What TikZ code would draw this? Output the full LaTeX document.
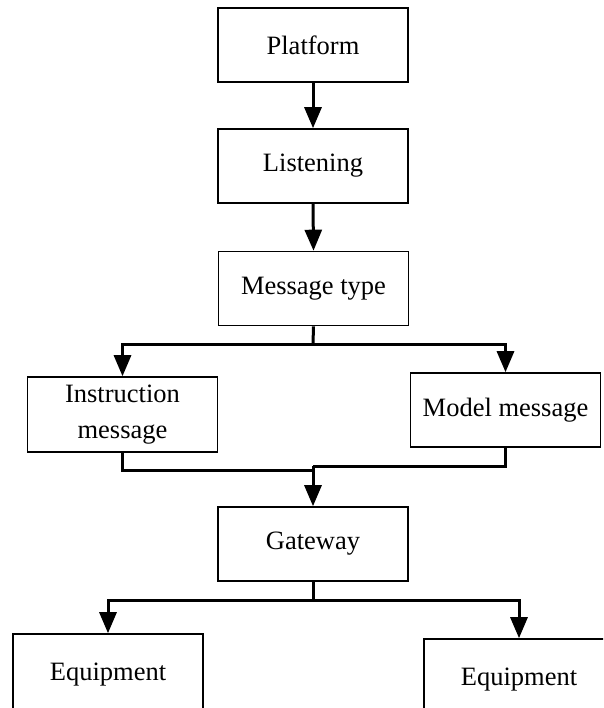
\documentclass[tikz,border=0pt]{standalone}
\usepackage{fontspec}
\setmainfont{Liberation Serif}
\usetikzlibrary{arrows.meta}
\begin{document}
\begin{tikzpicture}[x=1pt,y=-1pt,
  box/.style={draw, line width=1.6pt, inner sep=0pt, minimum width=190pt, minimum height=74pt,
    font=\fontsize{26.5}{36}\selectfont, align=center},
  link/.style={line width=3pt},
  flow/.style={link, -{Triangle[length=21pt,width=17pt]}}]
  \path[use as bounding box, clip] (0,0) rectangle (603,708);

  % main column
  \node[box] (plat)   at (313,45)    {Platform};
  \node[box] (listen) at (313,166)   {Listening};
  \node[box] (mtype)  at (313.5,288.5) {Message type};
  % message branches
  \node[box, minimum height=75pt] (instr) at (122.5,414.5) {Instruction\\message};
  \node[box] (model)  at (505.5,410) {Model message};
  % gateway and devices
  \node[box] (gate)   at (313,544)   {Gateway};
  \node[box, minimum height=82pt] (eqL) at (108,675) {Equipment};
  \node[box, minimum height=82pt] (eqR) at (519,680) {Equipment};

  \draw[flow] (plat.south) -- (listen.north);
  \draw[flow] (listen.south) -- (mtype.north);

  % split by message type
  \coordinate (split) at (313,344);
  \draw[link] (mtype.south) -- (split);
  \draw[flow] (split) -| (instr.north);
  \draw[flow] (split) -| (model.north);

  % merge into gateway
  \coordinate (joinL) at (313,470);
  \coordinate (joinR) at (313,466);
  \draw[link] (instr.south) |- (joinL);
  \draw[link] (model.south) |- (joinR);
  \draw[flow] (joinR) -- (gate.north);

  % dispatch to equipment
  \coordinate (fork) at (313,600);
  \draw[link] (gate.south) -- (fork);
  \draw[flow] (fork) -| (eqL.north);
  \draw[flow] (fork) -| (eqR.north);
\end{tikzpicture}
\end{document}
